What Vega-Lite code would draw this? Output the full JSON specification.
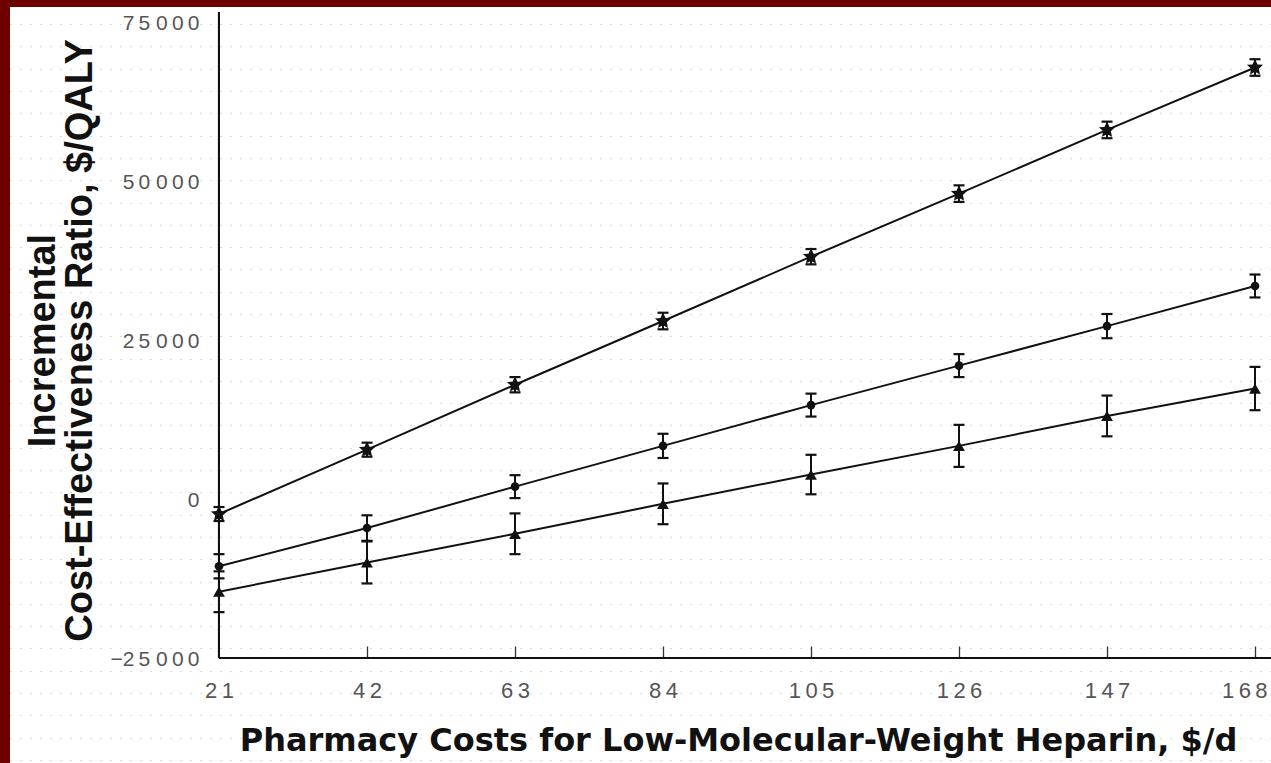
{
  "$schema": "https://vega.github.io/schema/vega-lite/v6.json",
  "width": 1261,
  "height": 756,
  "autosize": {"type": "none"},
  "padding": {"left": 10, "top": 7, "right": 0, "bottom": 0},
  "background": "#6e0000",
  "config": {"view": {"fill": "white", "stroke": null}, "font": "Liberation Sans"},
  "data": {"values": [
    {"series": "A", "cost": 21, "icer": -2400, "lo": -3500, "hi": -1300},
    {"series": "A", "cost": 42, "icer": 7700, "lo": 6600, "hi": 8800},
    {"series": "A", "cost": 63, "icer": 17900, "lo": 16700, "hi": 19100},
    {"series": "A", "cost": 84, "icer": 27900, "lo": 26600, "hi": 29200},
    {"series": "A", "cost": 105, "icer": 38000, "lo": 36800, "hi": 39200},
    {"series": "A", "cost": 126, "icer": 47900, "lo": 46600, "hi": 49200},
    {"series": "A", "cost": 147, "icer": 57900, "lo": 56600, "hi": 59200},
    {"series": "A", "cost": 168, "icer": 67700, "lo": 66400, "hi": 69000},
    {"series": "B", "cost": 21, "icer": -10600, "lo": -12500, "hi": -8700},
    {"series": "B", "cost": 42, "icer": -4600, "lo": -6600, "hi": -2600},
    {"series": "B", "cost": 63, "icer": 1900, "lo": 100, "hi": 3700},
    {"series": "B", "cost": 84, "icer": 8300, "lo": 6400, "hi": 10200},
    {"series": "B", "cost": 105, "icer": 14700, "lo": 12900, "hi": 16500},
    {"series": "B", "cost": 126, "icer": 20900, "lo": 19100, "hi": 22700},
    {"series": "B", "cost": 147, "icer": 27100, "lo": 25200, "hi": 29000},
    {"series": "B", "cost": 168, "icer": 33400, "lo": 31600, "hi": 35200},
    {"series": "C", "cost": 21, "icer": -14600, "lo": -17800, "hi": -11400},
    {"series": "C", "cost": 42, "icer": -10000, "lo": -13300, "hi": -6700},
    {"series": "C", "cost": 63, "icer": -5500, "lo": -8700, "hi": -2300},
    {"series": "C", "cost": 84, "icer": -800, "lo": -4000, "hi": 2400},
    {"series": "C", "cost": 105, "icer": 3800, "lo": 700, "hi": 6900},
    {"series": "C", "cost": 126, "icer": 8300, "lo": 5000, "hi": 11600},
    {"series": "C", "cost": 147, "icer": 13000, "lo": 9800, "hi": 16200},
    {"series": "C", "cost": 168, "icer": 17300, "lo": 13900, "hi": 20700}
  ]},
  "layer": [
    {
      "mark": {"type": "line", "color": "#111", "strokeWidth": 2},
      "encoding": {
        "detail": {"field": "series"},
        "x": {"field": "cost", "type": "quantitative",
              "scale": {"domain": [-8.655, 170.27], "nice": false, "zero": false},
              "axis": {"orient": "bottom", "offset": -105, "values": [21, 42, 63, 84, 105, 126, 147, 168], "domain": false, "grid": false,
                       "ticks": false, "labelFlush": 20, "labelFlushOffset": 12,
                       "labelExpr": "replace(datum.label, regexp('([0-9])(?=[0-9])', 'g'), '$1\u2009')",
                       "labelFont": "Liberation Sans", "labelFontSize": 22, "labelColor": "#555", "labelPadding": 22,
                       "title": "Pharmacy Costs for Low-Molecular-Weight Heparin, $/d",
                       "titleFont": "DejaVu Sans", "titleFontWeight": "bold", "titleFontSize": 32, "titleColor": "#111",
                       "titleX": 728, "titleY": 82, "titleBaseline": "middle", "titleAlign": "center"}},
        "y": {"field": "icer", "type": "quantitative",
              "scale": {"domain": [-41485, 77198], "nice": false, "zero": false},
              "axis": {"orient": "left", "offset": -209, "values": [-25000, 0, 25000, 50000, 75000], "domain": false, "grid": false, "ticks": false,
                       "labelExpr": "replace(replace(format(datum.value, ','), ',', ' '), regexp('([0-9])(?=[0-9])', 'g'), '$1\u2009')",
                       "labelFont": "Liberation Sans", "labelFontSize": 21, "labelColor": "#555", "labelPadding": 20, "labelOffset": 2,
                       "title": ["Incremental", "Cost-Effectiveness Ratio, $/QALY"],
                       "titleFont": "Liberation Sans", "titleFontWeight": "bold", "titleFontSize": 38, "titleColor": "#111",
                       "titleLineHeight": 37, "titleAngle": -90, "titleX": -176, "titleY": 333, "titleBaseline": "middle", "titleAlign": "center"}}
      }
    },
    {
      "mark": {"type": "rule", "stroke": "#111", "strokeWidth": 2},
      "encoding": {
        "x": {"datum": 21, "type": "quantitative",
              "axis": {"orient": "top", "offset": -651, "values": [42, 63, 84, 105, 126, 147, 168], "domain": false, "grid": false,
                       "labels": false, "title": null, "ticks": true, "tickSize": 12, "tickColor": "#333", "tickWidth": 1.3}},
        "y": {"datum": -25000, "type": "quantitative",
              "axis": {"orient": "right", "values": [-41000, -37500, -34000, -30500, -27000, -23500, -20000, -16500, -13000, -9500, -6000, -2500, 1000, 4500, 8000, 11500, 15000, 18500, 22000, 25500, 29000, 32500, 36000, 39500, 43000, 46500, 50000, 53500, 57000, 60500, 64000, 67500, 71000, 74500],
                       "labels": false, "ticks": false, "domain": false, "title": null, "grid": true, "gridDash": [1, 9], "gridColor": "#b8b8b8", "gridWidth": 1.2}},
        "y2": {"datum": 76400}
      }
    },
    {
      "mark": {"type": "rule", "stroke": "#111", "strokeWidth": 2},
      "encoding": {
        "x": {"datum": 21, "type": "quantitative", "axis": null},
        "x2": {"datum": 170.2},
        "y": {"datum": -25000, "type": "quantitative", "axis": null}
      }
    },
    {
      "mark": {"type": "rule", "stroke": "#111", "strokeWidth": 2},
      "encoding": {
        "x": {"field": "cost", "type": "quantitative", "axis": null},
        "y": {"field": "lo", "type": "quantitative", "axis": null},
        "y2": {"field": "hi"}
      }
    },
    {
      "mark": {"type": "tick", "orient": "horizontal", "size": 11, "thickness": 2.2, "color": "#111", "opacity": 1},
      "encoding": {
        "x": {"field": "cost", "type": "quantitative", "axis": null},
        "y": {"field": "lo", "type": "quantitative", "axis": null}
      }
    },
    {
      "mark": {"type": "tick", "orient": "horizontal", "size": 11, "thickness": 2.2, "color": "#111", "opacity": 1},
      "encoding": {
        "x": {"field": "cost", "type": "quantitative", "axis": null},
        "y": {"field": "hi", "type": "quantitative", "axis": null}
      }
    },
    {
      "transform": [{"filter": "datum.series == 'A'"}],
      "mark": {"type": "point", "filled": true, "color": "#111", "opacity": 1, "size": 290,
               "shape": "M0,-1L0.3,-0.35L0.951,-0.309L0.45,0.15L0.588,0.809L0,0.5L-0.588,0.809L-0.45,0.15L-0.951,-0.309L-0.3,-0.35Z"},
      "encoding": {
        "x": {"field": "cost", "type": "quantitative", "axis": null},
        "y": {"field": "icer", "type": "quantitative", "axis": null}
      }
    },
    {
      "transform": [{"filter": "datum.series == 'B'"}],
      "mark": {"type": "point", "filled": true, "color": "#111", "opacity": 1, "size": 75, "shape": "circle"},
      "encoding": {
        "x": {"field": "cost", "type": "quantitative", "axis": null},
        "y": {"field": "icer", "type": "quantitative", "axis": null}
      }
    },
    {
      "transform": [{"filter": "datum.series == 'C'"}],
      "mark": {"type": "point", "filled": true, "color": "#111", "opacity": 1, "size": 140, "shape": "triangle-up"},
      "encoding": {
        "x": {"field": "cost", "type": "quantitative", "axis": null},
        "y": {"field": "icer", "type": "quantitative", "axis": null}
      }
    }
  ]
}
